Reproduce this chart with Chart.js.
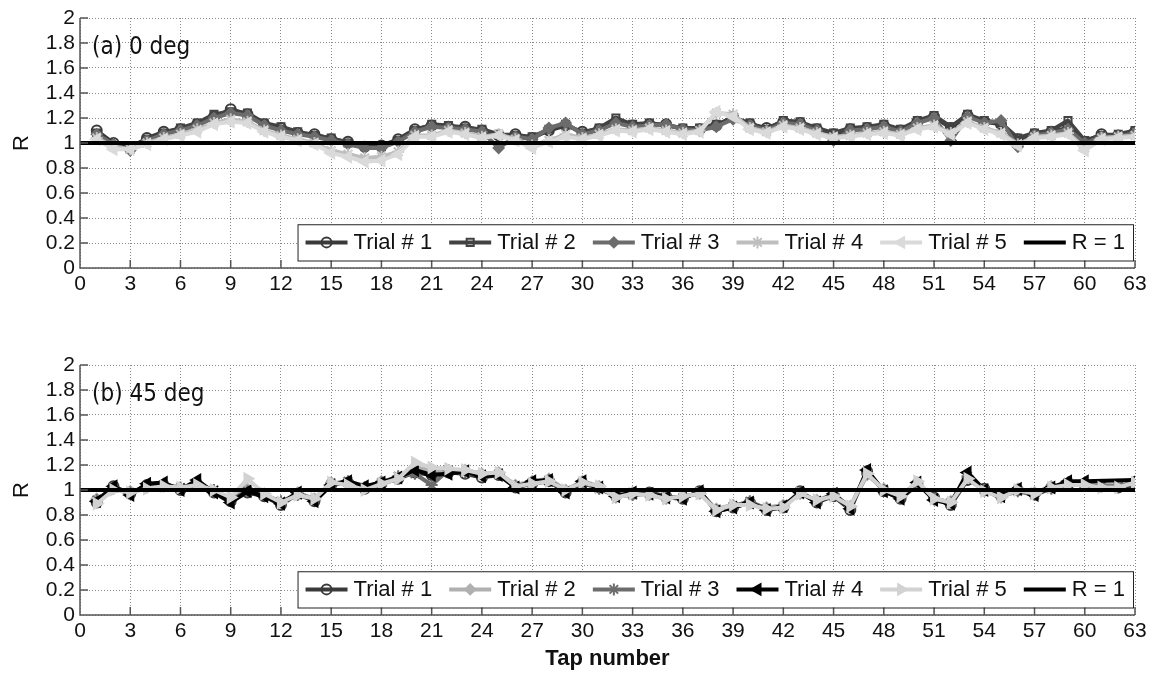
<!DOCTYPE html>
<html>
<head>
<meta charset="utf-8">
<script src="https://cdn.jsdelivr.net/npm/chart.js@4.4.1/dist/chart.umd.min.js"></script>
<style>
  html, body { margin: 0; padding: 0; background: #fff; }
  #wrap { position: relative; width: 1161px; height: 675px; overflow: hidden; }
  canvas { position: absolute; left: 0; }
  #chartA { top: 0; }
  #chartB { top: 320px; }
</style>
</head>
<body>
<div id="wrap">
  <canvas id="chartA" width="1161" height="320"></canvas>
  <canvas id="chartB" width="1161" height="355"></canvas>
</div>
<script>
// Tap numbers along the x axis
const taps = [1, 2, 3, 4, 5, 6, 7, 8, 9, 10, 11, 12, 13, 14, 15, 16, 17, 18, 19, 20,
  21, 22, 23, 24, 25, 26, 27, 28, 29, 30, 31, 32, 33, 34, 35, 36, 37, 38, 39, 40,
  41, 42, 43, 44, 45, 46, 47, 48, 49, 50, 51, 52, 53, 54, 55, 56, 57, 58, 59, 60,
  61, 62, 63];

const xTicks = [0, 3, 6, 9, 12, 15, 18, 21, 24, 27, 30, 33, 36, 39, 42, 45, 48, 51, 54, 57, 60, 63];
const yTicks = [0, 0.2, 0.4, 0.6, 0.8, 1, 1.2, 1.4, 1.6, 1.8, 2];

// Reference line R = 1
const refX = [0, 63];
const refY = [1, 1];

// (a) 0 deg
const a0Trial1 = [1.10, 1.00, 0.96, 1.04, 1.09, 1.11, 1.15, 1.21, 1.27, 1.23, 1.15, 1.12, 1.08, 1.07, 1.03, 1.01, 0.97, 0.98, 1.03, 1.11,
  1.14, 1.13, 1.13, 1.10, 1.06, 1.07, 1.04, 1.10, 1.14, 1.09, 1.11, 1.17, 1.14, 1.15, 1.15, 1.11, 1.11, 1.14, 1.21, 1.15,
  1.12, 1.17, 1.16, 1.11, 1.07, 1.11, 1.12, 1.14, 1.10, 1.17, 1.21, 1.12, 1.22, 1.17, 1.15, 1.03, 1.07, 1.09, 1.12, 1.01,
  1.07, 1.06, 1.09];
const a0Trial2 = [1.08, 0.98, 0.95, 1.03, 1.08, 1.12, 1.16, 1.23, 1.25, 1.24, 1.16, 1.13, 1.09, 1.06, 1.04, 1.00, 0.98, 0.97, 1.02, 1.10,
  1.15, 1.14, 1.12, 1.11, 1.07, 1.06, 1.05, 1.11, 1.15, 1.08, 1.12, 1.20, 1.15, 1.16, 1.14, 1.12, 1.12, 1.15, 1.20, 1.16,
  1.11, 1.18, 1.17, 1.12, 1.08, 1.12, 1.13, 1.15, 1.11, 1.18, 1.22, 1.13, 1.23, 1.18, 1.16, 1.04, 1.08, 1.10, 1.18, 1.02,
  1.06, 1.07, 1.10];
const a0Trial3 = [1.07, 0.99, 0.94, 1.02, 1.07, 1.10, 1.14, 1.20, 1.24, 1.22, 1.14, 1.10, 1.07, 1.05, 1.02, 0.99, 0.96, 0.96, 1.01, 1.09,
  1.13, 1.12, 1.11, 1.09, 0.96, 1.05, 1.03, 1.12, 1.16, 1.07, 1.10, 1.16, 1.13, 1.14, 1.15, 1.11, 1.10, 1.13, 1.19, 1.14,
  1.10, 1.16, 1.15, 1.10, 1.02, 1.10, 1.11, 1.13, 1.09, 1.16, 1.20, 1.02, 1.21, 1.16, 1.18, 0.97, 1.06, 1.08, 1.11, 1.00,
  1.05, 1.05, 1.08];
const a0Trial4 = [1.04, 0.97, 0.95, 1.00, 1.04, 1.07, 1.11, 1.16, 1.19, 1.17, 1.10, 1.06, 1.03, 1.00, 0.94, 0.91, 0.88, 0.89, 0.93, 1.06,
  1.06, 1.10, 1.08, 1.05, 1.07, 1.03, 0.98, 1.02, 1.07, 1.04, 1.07, 1.11, 1.10, 1.12, 1.10, 1.08, 1.10, 1.24, 1.23, 1.12,
  1.09, 1.14, 1.12, 1.08, 1.05, 1.06, 1.08, 1.09, 1.07, 1.12, 1.14, 1.08, 1.17, 1.12, 1.08, 0.99, 1.05, 1.06, 1.08, 0.96,
  1.04, 1.05, 1.06];
const a0Trial5 = [1.03, 0.95, 0.95, 0.99, 1.03, 1.06, 1.09, 1.15, 1.17, 1.16, 1.09, 1.05, 1.02, 0.99, 0.92, 0.89, 0.85, 0.86, 0.91, 1.05,
  1.05, 1.09, 1.07, 1.04, 1.06, 1.02, 0.96, 1.01, 1.05, 1.03, 1.06, 1.10, 1.09, 1.11, 1.09, 1.07, 1.09, 1.25, 1.21, 1.11,
  1.08, 1.13, 1.11, 1.07, 1.04, 1.05, 1.07, 1.08, 1.06, 1.11, 1.13, 1.07, 1.16, 1.11, 1.07, 0.98, 1.04, 1.05, 1.07, 0.94,
  1.03, 1.04, 1.05];

// (b) 45 deg
const b45Trial1 = [0.90, 1.03, 0.97, 1.04, 1.03, 1.00, 1.04, 0.98, 0.91, 0.98, 0.95, 0.88, 0.97, 0.91, 1.04, 1.06, 1.01, 1.05, 1.09, 1.14,
  1.12, 1.14, 1.13, 1.10, 1.12, 1.02, 1.05, 1.07, 0.98, 1.05, 1.02, 0.96, 0.97, 0.98, 0.95, 0.93, 0.99, 0.83, 0.86, 0.90,
  0.84, 0.86, 0.99, 0.90, 0.95, 0.84, 1.15, 0.99, 0.93, 1.04, 0.94, 0.88, 1.08, 1.01, 0.96, 1.00, 0.97, 1.02, 1.04, 1.04,
  1.03, 1.02, 1.03];
const b45Trial2 = [0.93, 1.01, 0.99, 1.02, 1.05, 1.01, 1.06, 0.99, 0.93, 1.01, 0.97, 0.90, 0.98, 0.93, 1.06, 1.05, 1.02, 1.07, 1.10, 1.18,
  1.16, 1.15, 1.16, 1.13, 1.14, 1.04, 1.07, 1.09, 1.00, 1.07, 1.03, 0.94, 0.98, 0.96, 0.93, 0.95, 0.97, 0.85, 0.88, 0.89,
  0.86, 0.88, 0.97, 0.92, 0.96, 0.87, 1.12, 1.01, 0.95, 1.06, 0.92, 0.91, 1.10, 0.99, 0.94, 1.01, 0.98, 1.03, 1.05, 1.06,
  1.04, 1.04, 1.05];
const b45Trial3 = [0.92, 1.02, 0.98, 1.03, 1.04, 1.02, 1.05, 1.00, 0.92, 0.99, 0.96, 0.91, 0.96, 0.92, 1.05, 1.07, 1.02, 1.06, 1.11, 1.13,
  1.04, 1.16, 1.14, 1.12, 1.13, 1.03, 1.06, 1.08, 0.99, 1.06, 1.01, 0.95, 0.96, 0.97, 0.94, 0.94, 0.98, 0.84, 0.87, 0.91,
  0.85, 0.87, 0.98, 0.91, 0.97, 0.86, 1.13, 1.00, 0.94, 1.05, 0.93, 0.90, 1.11, 1.00, 0.95, 0.99, 0.96, 1.01, 1.06, 1.05,
  1.03, 1.03, 1.06];
const b45Trial4 = [0.91, 1.03, 0.96, 1.05, 1.06, 1.00, 1.08, 0.98, 0.90, 0.99, 0.95, 0.89, 0.98, 0.91, 1.04, 1.07, 1.03, 1.06, 1.10, 1.16,
  1.12, 1.13, 1.15, 1.11, 1.12, 1.02, 1.07, 1.08, 0.98, 1.07, 1.02, 0.95, 0.98, 0.97, 0.94, 0.93, 0.99, 0.83, 0.86, 0.90,
  0.84, 0.87, 0.98, 0.90, 0.97, 0.85, 1.16, 0.99, 0.93, 1.06, 0.92, 0.89, 1.14, 1.00, 0.95, 1.01, 0.96, 1.02, 1.07, 1.07,
  null, null, 1.08];
const b45Trial5 = [0.89, 1.00, 0.98, 1.01, 1.03, 1.02, 1.04, 1.00, 0.94, 1.09, 0.97, 0.90, 0.96, 0.93, 1.06, 1.04, 1.00, 1.05, 1.09, 1.22,
  1.18, 1.17, 1.16, 1.13, 1.14, 1.03, 1.05, 1.07, 1.00, 1.06, 1.03, 0.94, 0.97, 0.96, 0.93, 0.95, 0.97, 0.84, 0.88, 0.88,
  0.85, 0.86, 0.97, 0.92, 0.95, 0.87, 1.13, 1.00, 0.95, 1.07, 0.93, 0.90, 1.09, 0.99, 0.94, 1.00, 0.97, 1.02, 1.04, 1.04,
  1.02, 1.02, 1.06];

const tickFont = { family: "'Liberation Sans', Arial, sans-serif", size: 21 };
const legendFont = "22px 'Liberation Sans', Arial, sans-serif";

function trial(label, values, st, order) {
  return {
    label,
    data: taps.map((t, i) => ({ x: t, y: values[i] })),
    borderColor: st.color,
    borderWidth: 4,
    borderJoinStyle: 'round',
    pointStyle: st.marker,
    pointRotation: st.rot || 0,
    pointRadius: st.r || 5,
    pointBorderWidth: 2,
    pointBorderColor: st.color,
    pointBackgroundColor: st.fill,
    spanGaps: true,
    order
  };
}

function refLine() {
  return {
    label: 'R = 1',
    data: refX.map((x, i) => ({ x, y: refY[i] })),
    borderColor: '#000',
    borderWidth: 4,
    pointRadius: 0,
    order: 0
  };
}

// axes, inward ticks, labels and the boxed legend, drawn MATLAB style
const matlabAxes = {
  id: 'matlabAxes',
  afterDraw(chart) {
    const o = chart.options.plugins.matlabAxes;
    const { ctx, chartArea: ca } = chart;
    const xs = chart.scales.x, ys = chart.scales.y;
    ctx.save();

    // axis lines + inward ticks
    ctx.strokeStyle = '#555';
    ctx.lineWidth = 1.5;
    ctx.beginPath();
    ctx.moveTo(ca.left, ca.top);
    ctx.lineTo(ca.left, ca.bottom);
    ctx.lineTo(ca.right, ca.bottom);
    xTicks.forEach(v => {
      const px = xs.getPixelForValue(v);
      ctx.moveTo(px, ca.bottom);
      ctx.lineTo(px, ca.bottom - 8);
    });
    yTicks.forEach(v => {
      const py = ys.getPixelForValue(v);
      ctx.moveTo(ca.left, py);
      ctx.lineTo(ca.left + 8, py);
    });
    ctx.stroke();

    // panel label
    ctx.fillStyle = '#111';
    ctx.font = "24px 'DejaVu Sans Condensed', 'DejaVu Sans', sans-serif";
    ctx.textBaseline = 'middle';
    ctx.textAlign = 'left';
    ctx.fillText(o.title, ca.left + 12, ys.getPixelForValue(1.76));

    // y axis label
    ctx.save();
    ctx.translate(22, ys.getPixelForValue(1));
    ctx.rotate(-Math.PI / 2);
    ctx.textAlign = 'center';
    ctx.font = "22px 'Liberation Sans', Arial, sans-serif";
    ctx.fillText('R', 0, 0);
    ctx.restore();

    if (o.xTitle) {
      ctx.font = "bold 22px 'Liberation Sans', Arial, sans-serif";
      ctx.textAlign = 'center';
      ctx.fillText(o.xTitle, (ca.left + ca.right) / 2, ca.bottom + 44);
    }

    // legend box
    ctx.font = legendFont;
    const sample = 42, gapIn = 6, gapOut = 17, padL = 8, padR = 8;
    const items = o.legend.map(i => chart.data.datasets[i]);
    let w = padL + padR;
    items.forEach((d, k) => {
      w += sample + gapIn + ctx.measureText(d.label).width + (k < items.length - 1 ? gapOut : 0);
    });
    const boxTop = ys.getPixelForValue(0.35), boxBot = ys.getPixelForValue(0.06);
    const boxR = ca.right - 2, boxL = boxR - w;
    ctx.fillStyle = '#fff';
    ctx.fillRect(boxL, boxTop, w, boxBot - boxTop);
    ctx.strokeStyle = '#222';
    ctx.lineWidth = 1;
    ctx.strokeRect(boxL + 0.5, boxTop + 0.5, w, boxBot - boxTop);
    const cy = (boxTop + boxBot) / 2;
    let x = boxL + padL;
    items.forEach(d => {
      ctx.strokeStyle = d.borderColor;
      ctx.lineWidth = d.borderWidth;
      ctx.beginPath();
      ctx.moveTo(x, cy);
      ctx.lineTo(x + sample, cy);
      ctx.stroke();
      if (d.pointRadius) {
        ctx.fillStyle = d.pointBackgroundColor;
        ctx.strokeStyle = d.pointBorderColor;
        ctx.lineWidth = d.pointBorderWidth;
        Chart.helpers.drawPoint(ctx, {
          pointStyle: d.pointStyle, rotation: d.pointRotation,
          radius: d.pointRadius, borderWidth: d.pointBorderWidth
        }, x + sample / 2, cy);
      }
      x += sample + gapIn;
      ctx.fillStyle = '#111';
      ctx.textAlign = 'left';
      ctx.fillText(d.label, x, cy + 1);
      x += ctx.measureText(d.label).width + gapOut;
    });
    ctx.restore();
  }
};

function makeChart(id, datasets, cfg) {
  return new Chart(document.getElementById(id), {
    type: 'line',
    data: { datasets },
    plugins: [matlabAxes],
    options: {
      responsive: false,
      animation: false,
      layout: { padding: { top: cfg.padTop, right: 26, bottom: 0, left: 0 } },
      plugins: {
        legend: { display: false },
        tooltip: { enabled: false },
        matlabAxes: { title: cfg.title, xTitle: cfg.xTitle, legend: [1, 2, 3, 4, 5, 0] }
      },
      scales: {
        x: {
          type: 'linear', min: 0, max: 63,
          afterBuildTicks: s => { s.ticks = xTicks.map(v => ({ value: v })); },
          afterFit: s => { s.height = cfg.xHeight; },
          ticks: { font: tickFont, color: '#111', padding: 4, maxRotation: 0, autoSkip: false },
          grid: { color: '#8a8a8a', lineWidth: 1, drawTicks: false },
          border: { display: false, dash: [1, 2] }
        },
        y: {
          min: 0, max: 2,
          afterBuildTicks: s => { s.ticks = yTicks.map(v => ({ value: v })); },
          afterFit: s => { s.width = 80; },
          ticks: { font: tickFont, color: '#111', padding: 5, autoSkip: false, callback: v => String(+v.toFixed(1)) },
          grid: { color: '#8a8a8a', lineWidth: 1, drawTicks: false },
          border: { display: false, dash: [1, 2] }
        }
      }
    }
  });
}

makeChart('chartA', [
  refLine(),
  trial('Trial # 1', a0Trial1, { color: '#3a3a3a', marker: 'circle', fill: 'rgba(0,0,0,0)' }, 5),
  trial('Trial # 2', a0Trial2, { color: '#424242', marker: 'rect', fill: 'rgba(0,0,0,0)' }, 4),
  trial('Trial # 3', a0Trial3, { color: '#6c6c6c', marker: 'rectRot', fill: '#6c6c6c' }, 3),
  trial('Trial # 4', a0Trial4, { color: '#bebebe', marker: 'star', fill: '#bebebe', r: 6 }, 2),
  trial('Trial # 5', a0Trial5, { color: '#dadada', marker: 'triangle', rot: -90, fill: '#dadada', r: 6 }, 1)
], { padTop: 18, xHeight: 52, title: '(a) 0 deg' });

makeChart('chartB', [
  refLine(),
  trial('Trial # 1', b45Trial1, { color: '#3a3a3a', marker: 'circle', fill: 'rgba(0,0,0,0)' }, 5),
  trial('Trial # 2', b45Trial2, { color: '#b0b0b0', marker: 'rectRot', fill: '#b0b0b0' }, 4),
  trial('Trial # 3', b45Trial3, { color: '#6c6c6c', marker: 'star', fill: '#6c6c6c', r: 6 }, 3),
  trial('Trial # 4', b45Trial4, { color: '#000000', marker: 'triangle', rot: -90, fill: '#000000', r: 6 }, 2),
  trial('Trial # 5', b45Trial5, { color: '#d2d2d2', marker: 'triangle', rot: 90, fill: '#d2d2d2', r: 6 }, 1)
], { padTop: 45, xHeight: 60, title: '(b) 45 deg', xTitle: 'Tap number' });
</script>
</body>
</html>
